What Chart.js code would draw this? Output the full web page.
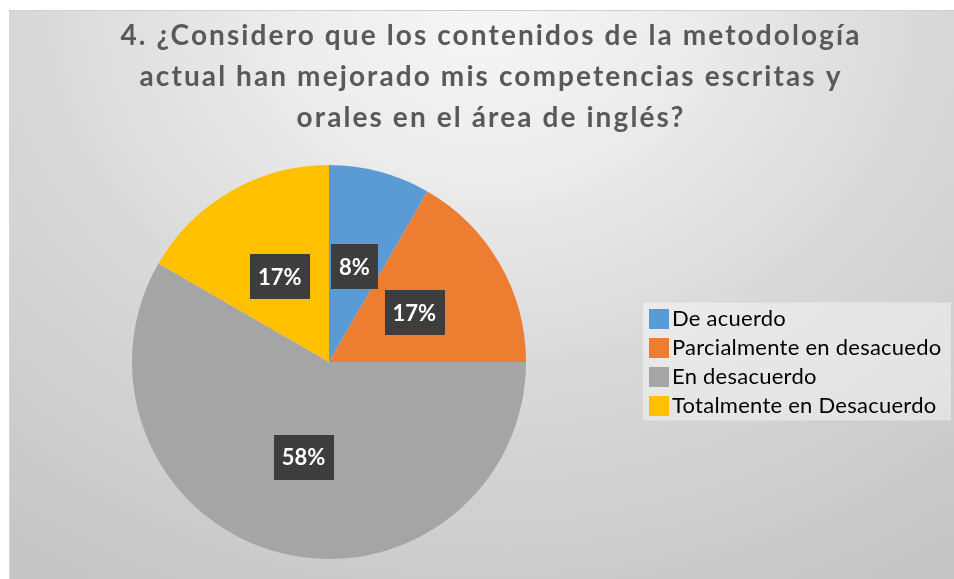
<!DOCTYPE html>
<html><head><meta charset="utf-8">
<script src="https://cdn.jsdelivr.net/npm/chart.js@4.4.0/dist/chart.umd.min.js"></script>
<style>
html,body{margin:0;padding:0;background:#fff;overflow:hidden;width:954px;height:579px;}
#bg{position:absolute;left:9px;top:10px;width:945px;height:569px;box-sizing:border-box;
  border-top:1px solid #d0d0d0;border-left:1px solid #d6d6d6;
  background:radial-gradient(ellipse 85% 115% at 50% 0%, #f6f6f6 0%, #ececec 25%, #d9d9d9 55%, #c6c6c6 100%);}
#wrap{position:absolute;left:28px;top:10px;width:926px;height:569px;}
</style></head><body>
<div id="bg"></div>
<div id="wrap"><canvas id="c"></canvas></div>
<script>
const titleLines = [
  '4. ¿Considero que los contenidos de la metodología',
  'actual han mejorado mis competencias escritas y',
  'orales en el área de inglés?'
];
const categories = ['De acuerdo', 'Parcialmente en desacuedo', 'En desacuerdo', 'Totalmente en Desacuerdo'];
const responses = [1, 2, 7, 2];
const sliceColors = ['#5B9BD5', '#ED7D31', '#A5A5A5', '#FFC000'];

const LEGEND_FS = 22;
const LEGEND_PAD = 7;
const LEGEND_WIDTH = 324;

function markerImage(color) {
  const cv = document.createElement('canvas');
  cv.width = 40; cv.height = 20;
  const g = cv.getContext('2d');
  g.fillStyle = color;
  g.fillRect(20, 0, 20, 20);
  return cv;
}
const markers = sliceColors.map(markerImage);

function labelPattern(ctx) {
  const p = document.createElement('canvas');
  p.width = 4; p.height = 4;
  const g = p.getContext('2d');
  g.fillStyle = '#3b3b3b'; g.fillRect(0, 0, 4, 4);
  g.fillStyle = '#4d4d4d'; g.fillRect(0, 0, 1, 1); g.fillRect(2, 2, 1, 1);
  return ctx.createPattern(p, 'repeat');
}

const boxTweaks = {
  id: 'boxTweaks',
  beforeLayout(chart) {
    const lg = chart.legend;
    if (lg && !lg._tweaked) {
      const fit = lg.fit.bind(lg);
      lg.fit = function () { fit(); this.width = LEGEND_WIDTH; };
      const draw = lg.draw.bind(lg);
      lg.draw = function (a) { const c = this.ctx; c.save(); c.letterSpacing = '0.25px'; draw(a); c.restore(); };
      lg._tweaked = true;
    }
    const tb = chart.titleBlock;
    if (tb && !tb._tweaked) {
      const draw = tb.draw.bind(tb);
      tb.draw = function (a) { const c = this.ctx; c.save(); c.letterSpacing = '2.1px'; draw(a); c.restore(); };
      tb._tweaked = true;
    }
  },
  beforeDraw(chart) {
    const lg = chart.legend;
    if (!lg) return;
    const colH = categories.length * (LEGEND_FS + LEGEND_PAD);
    const y0 = (lg.top + LEGEND_PAD + lg.bottom - colH) / 2;
    const firstC = y0 + LEGEND_FS / 2;
    const lastC = firstC + (categories.length - 1) * (LEGEND_FS + LEGEND_PAD);
    const ctx = chart.ctx;
    ctx.save();
    ctx.fillStyle = 'rgba(255,255,255,0.42)';
    ctx.fillRect(lg.left + 13, firstC - 16, 308, lastC - firstC + 31);
    ctx.restore();
  }
};

const pieLabels = {
  id: 'pieLabels',
  afterDatasetsDraw(chart) {
    const ctx = chart.ctx;
    const meta = chart.getDatasetMeta(0);
    const data = chart.data.datasets[0].data;
    const total = data.reduce((a, b) => a + b, 0);
    const pat = labelPattern(ctx);
    ctx.save();
    ctx.font = 'bold 22px Lato';
    ctx.textAlign = 'center';
    ctx.textBaseline = 'middle';
    meta.data.forEach((arc, i) => {
      const txt = Math.round(data[i] / total * 100) + '%';
      const pos = arc.tooltipPosition();
      const w = ctx.measureText(txt).width + 16;
      const h = 45;
      ctx.fillStyle = pat;
      ctx.fillRect(Math.round(pos.x - w / 2), Math.round(pos.y - h / 2), Math.round(w), h);
      ctx.fillStyle = '#ffffff';
      ctx.fillText(txt, pos.x, pos.y + 1);
    });
    ctx.restore();
  }
};

new Chart(document.getElementById('c'), {
  type: 'pie',
  data: {
    labels: categories,
    datasets: [{
      data: responses,
      backgroundColor: sliceColors,
      borderWidth: 0,
      hoverOffset: 0
    }]
  },
  options: {
    responsive: true,
    maintainAspectRatio: false,
    animation: false,
    events: [],
    layout: { padding: { left: 0, right: 0, top: 0, bottom: 20 } },
    plugins: {
      tooltip: { enabled: false },
      title: {
        display: true,
        text: titleLines,
        color: '#595959',
        font: { family: 'Lato', size: 28, weight: 'bold', lineHeight: 41.2 / 28 },
        padding: { top: 5, bottom: 26.4 }
      },
      legend: {
        display: true,
        position: 'right',
        align: 'center',
        fullSize: false,
        labels: {
          usePointStyle: true,
          pointStyleWidth: 24,
          boxHeight: LEGEND_FS,
          padding: LEGEND_PAD,
          color: '#595959',
          font: { family: 'Lato', size: LEGEND_FS },
          generateLabels(chart) {
            return chart.data.labels.map((t, i) => ({
              text: t,
              fillStyle: sliceColors[i],
              strokeStyle: sliceColors[i],
              lineWidth: 0,
              pointStyle: markers[i],
              hidden: false,
              index: i
            }));
          }
        }
      }
    }
  },
  plugins: [boxTweaks, pieLabels]
});
</script>
</body></html>
